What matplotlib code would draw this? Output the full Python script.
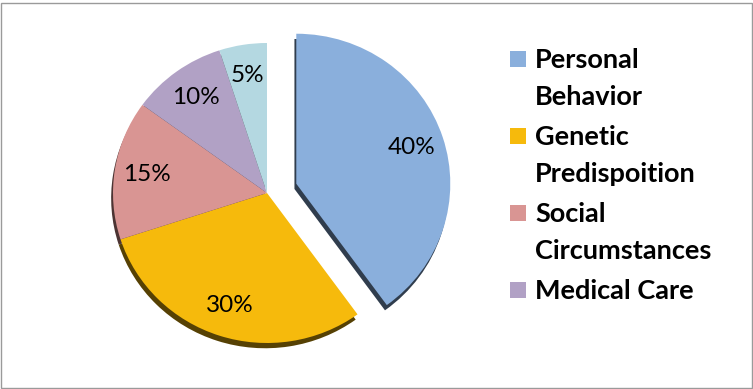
import matplotlib
matplotlib.use("Agg")
import matplotlib.pyplot as plt
from matplotlib.patches import Rectangle
from matplotlib.colors import to_rgb

categories = ["Personal\nBehavior", "Genetic\nPredispoition", "Social\nCircumstances",
              "Medical Care", "Environmental\nExposure"]
values = [40, 30, 15, 10, 5]
colors = ["#8AAFDC", "#F6BA0C", "#D99593", "#B1A1C5", "#B4D8E1"]
explode = [0.2, 0, 0, 0, 0]
legend_shown = 4

W, H = 753, 389
fig = plt.figure(figsize=(W / 100, H / 100), dpi=100)
ax = fig.add_axes([0, 0, 1, 1])
cx, cy, Rx, Ry = 267, 193, 154, 150

shadow_cols = [tuple(c * 0.35 for c in to_rgb(col)) for col in colors]
ax.pie(values, explode=explode, colors=shadow_cols, startangle=90, counterclock=False,
       center=(-0.012, -0.035), radius=1.0, wedgeprops=dict(linewidth=0),
       frame=True)
ax.pie(values, explode=explode, colors=colors, startangle=90, counterclock=False,
       radius=1.0, autopct="%d%%", pctdistance=0.79,
       wedgeprops=dict(linewidth=0), frame=True,
       textprops=dict(fontsize=17.5, family="Lato", color="black"))
ax.set_xlim(-cx / Rx, (W - cx) / Rx)
ax.set_ylim(-(H - cy) / Ry, cy / Ry)
ax.set_aspect("auto")
ax.axis("off")

# legend (manual, markers aligned with first text line)
base0, step, lh = 68, 77, 37
for i in range(legend_shown):
    yb = base0 + i * step
    fig.patches.append(Rectangle((510 / W, 1 - (yb - 1) / H), 16 / W, 16 / H,
                                 transform=fig.transFigure, facecolor=colors[i],
                                 edgecolor="none"))
    for j, line in enumerate(categories[i].split("\n")):
        fig.text(535 / W, 1 - (yb + j * lh) / H, line, ha="left", va="baseline",
                 fontsize=19.5, fontweight="bold", family="Lato")

fig.patches.append(Rectangle((1 / W, 1 / H), (W - 2.5) / W, (H - 4) / H,
                             transform=fig.transFigure, facecolor="none",
                             edgecolor="#9A9A9A", linewidth=1))
fig.savefig("out.png", dpi=100)
